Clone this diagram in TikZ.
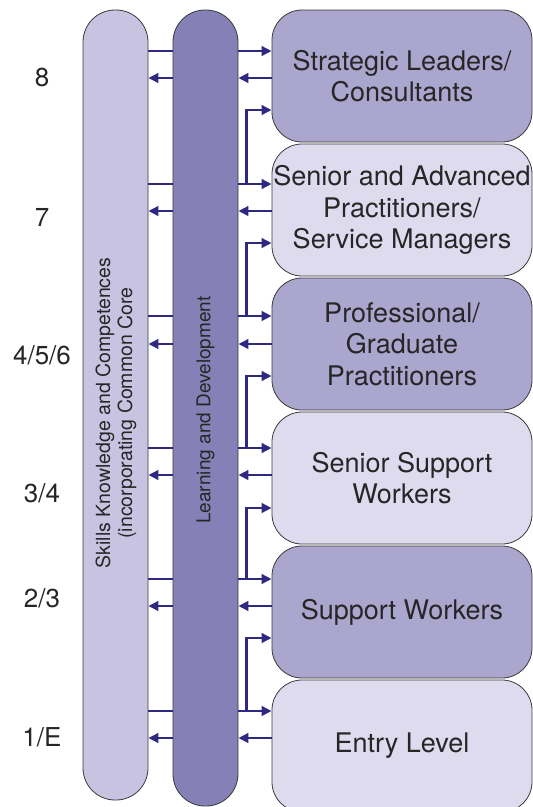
\documentclass[tikz,border=0pt]{standalone}
\usepackage{fontspec}
\setmainfont{TeX Gyre Heros}
\usetikzlibrary{arrows.meta,positioning}
\definecolor{skillfill}{HTML}{C8C3E0}
\definecolor{learnfill}{HTML}{8580B5}
\definecolor{darktier}{HTML}{ABA6CE}
\definecolor{lighttier}{HTML}{DEDBEE}
\definecolor{flowblue}{HTML}{2E2882}
\definecolor{edgegray}{HTML}{3A3A3A}
\tikzset{
    pillar/.style={rectangle, draw=edgegray, line width=0.8pt, rounded corners=32pt, minimum width=65pt, inner sep=0pt},
    pillartext/.style={rotate=90, align=center, font=\fontsize{19.5}{22}\selectfont, text=black!85},
    tier/.style={rectangle, draw=edgegray, line width=0.8pt, rounded corners=30pt, minimum width=260pt, minimum height=132pt, inner xsep=0pt, align=center, font=\fontsize{27}{31.5}\selectfont, text=black!85},
    level/.style={font=\fontsize{26}{30}\selectfont, text=black!85},
    flow/.style={-{Triangle[length=10pt, width=9.5pt]}, line width=2.8pt, draw=flowblue},
    link/.style={line width=2.8pt, draw=flowblue},
}
\begin{document}
\begin{tikzpicture}[x=1pt, y=-1pt, node distance=1.2pt]
    \useasboundingbox (0,0) rectangle (533,807);

    \node[pillar, fill=skillfill, minimum height=790pt] (skc) at (115.5,405) {};
    \node[pillar, fill=learnfill, minimum height=796pt] (ld) at (205.5,408) {};
    \node[pillartext] at (116,413) {Skills Knowledge and Competences\\(incorporating Common Core};
    \node[pillartext, font=\fontsize{19}{22}\selectfont] at (205.5,410) {Learning and Development};

    \node[tier, fill=darktier] (lead) at (402,76) {Strategic Leaders/\\Consultants};
    \node[tier, fill=lighttier, below=of lead] (senior) {Senior and Advanced\\Practitioners/\\Service Managers};
    \node[tier, fill=darktier, below=of senior] (prof) {Professional/\\Graduate\\Practitioners};
    \node[tier, fill=lighttier, below=of prof] (ssw) {Senior Support\\Workers};
    \node[tier, fill=darktier, below=of ssw] (sw) {Support Workers};
    \node[tier, fill=lighttier, below=of sw] (entry) {Entry Level};

    \node[level] (l8) at (42,77) {8};
    \node[level] (l7) at (42,217) {7};
    \node[level] (l456) at (42,355) {4/5/6};
    \node[level] (l34) at (42,493) {3/4};
    \node[level] (l23) at (42,598) {2/3};
    \node[level] (l1e) at (42,737) {1/E};

    \draw[flow] (ld.east |- 0,51) -- (lead.west |- 0,51);
    \draw[flow] (lead.west |- 0,78) -- (ld.east |- 0,78);
    \draw[link] (skc.east |- 0,51) -- (ld.west |- 0,51);
    \draw[flow] (ld.west |- 0,78) -- (skc.east |- 0,78);
    \draw[flow] (ld.east |- 0,184) ++(8,0) |- (lead.west |- 0,110);

    \draw[flow] (ld.east |- 0,184) -- (senior.west |- 0,184);
    \draw[flow] (senior.west |- 0,211) -- (ld.east |- 0,211);
    \draw[link] (skc.east |- 0,184) -- (ld.west |- 0,184);
    \draw[flow] (ld.west |- 0,211) -- (skc.east |- 0,211);
    \draw[flow] (ld.east |- 0,316) ++(8,0) |- (senior.west |- 0,243);

    \draw[flow] (ld.east |- 0,316) -- (prof.west |- 0,316);
    \draw[flow] (prof.west |- 0,344) -- (ld.east |- 0,344);
    \draw[link] (skc.east |- 0,316) -- (ld.west |- 0,316);
    \draw[flow] (ld.west |- 0,344) -- (skc.east |- 0,344);
    \draw[flow] (ld.east |- 0,448) ++(8,0) |- (prof.west |- 0,376);

    \draw[flow] (ld.east |- 0,448) -- (ssw.west |- 0,448);
    \draw[flow] (ssw.west |- 0,475) -- (ld.east |- 0,475);
    \draw[link] (skc.east |- 0,448) -- (ld.west |- 0,448);
    \draw[flow] (ld.west |- 0,475) -- (skc.east |- 0,475);
    \draw[flow] (ld.east |- 0,579) ++(8,0) |- (ssw.west |- 0,508);

    \draw[flow] (ld.east |- 0,579) -- (sw.west |- 0,579);
    \draw[flow] (sw.west |- 0,606) -- (ld.east |- 0,606);
    \draw[link] (skc.east |- 0,579) -- (ld.west |- 0,579);
    \draw[flow] (ld.west |- 0,606) -- (skc.east |- 0,606);
    \draw[flow] (ld.east |- 0,711) ++(8,0) |- (sw.west |- 0,638);

    \draw[flow] (ld.east |- 0,711) -- (entry.west |- 0,711);
    \draw[flow] (entry.west |- 0,738) -- (ld.east |- 0,738);
    \draw[link] (skc.east |- 0,711) -- (ld.west |- 0,711);
    \draw[flow] (ld.west |- 0,738) -- (skc.east |- 0,738);
\end{tikzpicture}
\end{document}
